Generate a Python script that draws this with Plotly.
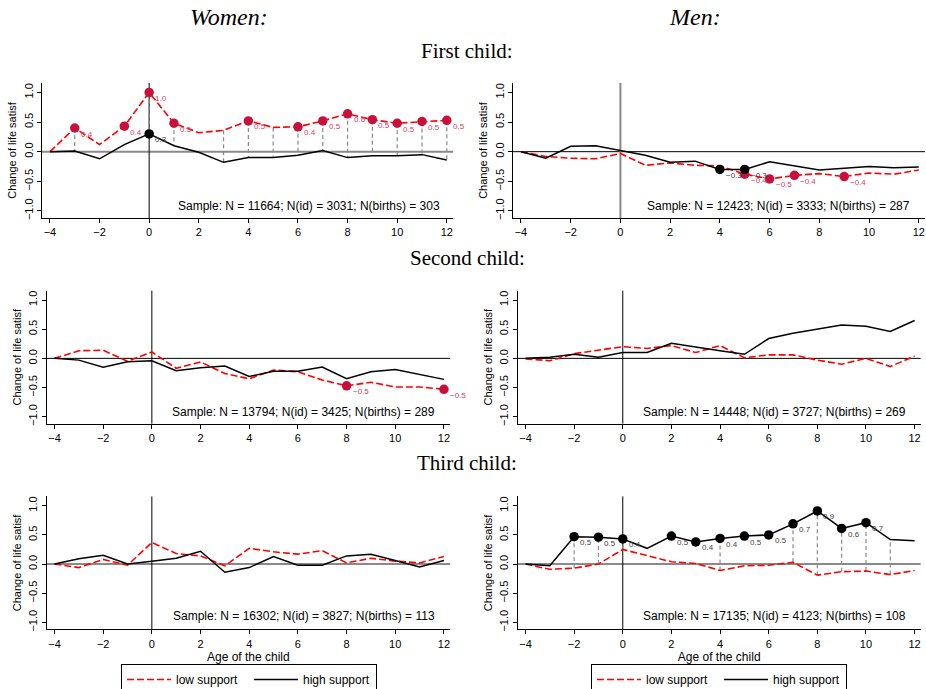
import plotly.graph_objects as go

W, H = 926, 689
ages = list(range(-4, 13))

col_titles = ["Women:", "Men:"]
row_titles = ["First child:", "Second child:", "Third child:"]
series_names = ["low support", "high support"]
y_tick_vals = [-1.0, -0.5, 0.0, 0.5, 1.0]
y_tick_text = ["\u22121.0", "\u22120.5", "0.0", "0.5", "1.0"]
x_tick_vals = [-4, -2, 0, 2, 4, 6, 8, 10, 12]
x_tick_text = ["\u22124", "\u22122", "0", "2", "4", "6", "8", "10", "12"]
y_title = "Change of life satisf"
x_title = "Age of the child"

# Women, first child
w1_low = [0.00, 0.40, 0.12, 0.43, 1.00, 0.48, 0.32, 0.36, 0.52, 0.41, 0.42, 0.52, 0.64, 0.54, 0.48, 0.51, 0.53]
w1_high = [0.00, 0.01, -0.12, 0.12, 0.30, 0.10, -0.01, -0.18, -0.10, -0.10, -0.06, 0.02, -0.10, -0.07, -0.07, -0.05, -0.14]
w1_low_sig = [-3, -1, 0, 1, 4, 6, 7, 8, 9, 10, 11, 12]
w1_high_sig = [0]
w1_diff = [-3, 0, 1, 3, 4, 5, 6, 7, 8, 9, 10, 11, 12]
# Men, first child
m1_low = [0.00, -0.08, -0.11, -0.12, -0.03, -0.23, -0.19, -0.23, -0.24, -0.38, -0.46, -0.40, -0.37, -0.42, -0.36, -0.38, -0.31]
m1_high = [0.00, -0.11, 0.09, 0.10, 0.02, -0.06, -0.18, -0.16, -0.30, -0.30, -0.17, -0.24, -0.31, -0.28, -0.25, -0.27, -0.26]
m1_low_sig = [5, 6, 7, 9]
m1_high_sig = [4, 5]
m1_diff = []
# Women, second child
w2_low = [0.00, 0.13, 0.14, -0.05, 0.11, -0.17, -0.06, -0.26, -0.35, -0.20, -0.23, -0.37, -0.47, -0.41, -0.49, -0.49, -0.53]
w2_high = [0.00, -0.03, -0.15, -0.06, -0.04, -0.21, -0.16, -0.13, -0.31, -0.22, -0.22, -0.15, -0.35, -0.23, -0.19, -0.27, -0.36]
w2_low_sig = [8, 12]
w2_high_sig = []
w2_diff = []
# Men, second child
m2_low = [-0.01, -0.04, 0.08, 0.14, 0.20, 0.17, 0.22, 0.10, 0.22, 0.01, 0.06, 0.06, -0.03, -0.10, 0.00, -0.14, 0.04]
m2_high = [0.00, 0.02, 0.07, 0.02, 0.10, 0.10, 0.26, 0.19, 0.13, 0.07, 0.34, 0.43, 0.50, 0.57, 0.55, 0.46, 0.65]
m2_low_sig = []
m2_high_sig = []
m2_diff = []
# Women, third child
w3_low = [0.00, -0.06, 0.08, -0.02, 0.37, 0.18, 0.14, -0.03, 0.27, 0.21, 0.17, 0.23, 0.02, 0.10, 0.05, 0.02, 0.13]
w3_high = [0.00, 0.09, 0.15, 0.00, 0.05, 0.10, 0.22, -0.14, -0.06, 0.13, -0.02, -0.02, 0.14, 0.17, 0.06, -0.05, 0.06]
w3_low_sig = []
w3_high_sig = []
w3_diff = []
# Men, third child
m3_low = [0.00, -0.09, -0.07, 0.00, 0.25, 0.14, 0.04, 0.01, -0.11, -0.03, -0.02, 0.03, -0.19, -0.13, -0.12, -0.18, -0.11]
m3_high = [0.00, -0.03, 0.47, 0.46, 0.43, 0.27, 0.48, 0.38, 0.44, 0.48, 0.50, 0.69, 0.91, 0.61, 0.71, 0.42, 0.40]
m3_low_sig = []
m3_high_sig = [-2, -1, 0, 2, 3, 4, 5, 6, 7, 8, 9, 10]
m3_diff = [-2, -1, 0, 4, 7, 8, 9, 10, 11]

samples = [
    "Sample: N = 11664; N(id) = 3031; N(births) = 303",
    "Sample: N = 12423; N(id) = 3333; N(births) = 287",
    "Sample: N = 13794; N(id) = 3425; N(births) = 289",
    "Sample: N = 14448; N(id) = 3727; N(births) = 269",
    "Sample: N = 16302; N(id) = 3827; N(births) = 113",
    "Sample: N = 17135; N(id) = 4123; N(births) = 108",
]

RED = "#ff0000"
MRED = "#c8103c"
LRED = "#d2406a"
GRAY = "#8a8a8a"
SANS = "Liberation Sans, Arial, sans-serif"
SERIF = "Liberation Serif, Times New Roman, serif"


def fx(px):
    return px / W


def fy(py):
    return 1 - py / H


panels = [
    dict(low=w1_low, high=w1_high, ls=w1_low_sig, hs=w1_high_sig, diff=w1_diff,
         px=(42, 453, 83, 218), zc=GRAY, zw=2, vc="#000000", vw=1, sx=442, sy=206),
    dict(low=m1_low, high=m1_high, ls=m1_low_sig, hs=m1_high_sig, diff=m1_diff,
         px=(513, 925, 83, 218), zc="#000000", zw=1, vc=GRAY, vw=2, sx=912, sy=206),
    dict(low=w2_low, high=w2_high, ls=w2_low_sig, hs=w2_high_sig, diff=w2_diff,
         px=(46.7, 450, 290.7, 423.7), zc="#000000", zw=1, vc="#000000", vw=1, sx=437, sy=412),
    dict(low=m2_low, high=m2_high, ls=m2_low_sig, hs=m2_high_sig, diff=m2_diff,
         px=(517.7, 920.7, 290.7, 423.7), zc="#000000", zw=1, vc="#000000", vw=1, sx=908, sy=412),
    dict(low=w3_low, high=w3_high, ls=w3_low_sig, hs=w3_high_sig, diff=w3_diff,
         px=(46.7, 450, 496.4, 629.4), zc=GRAY, zw=2, vc="#000000", vw=1, sx=437, sy=616),
    dict(low=m3_low, high=m3_high, ls=m3_low_sig, hs=m3_high_sig, diff=m3_diff,
         px=(517.7, 920.7, 496.4, 629.4), zc=GRAY, zw=2, vc="#000000", vw=1, sx=908, sy=616),
]

XR = [-4.32, 12.25]
YR = [-1.12, 1.16]

fig = go.Figure()
layout = dict(width=W, height=H, margin=dict(l=0, r=0, t=0, b=0, autoexpand=False),
              paper_bgcolor="white", plot_bgcolor="white",
              font=dict(family=SANS, size=11, color="black"))
shapes = []
annotations = []


def fmt(v):
    return f"{v:.1f}".replace("-", "\u2212")


for i, p in enumerate(panels):
    n = i + 1
    xa = "x" if n == 1 else f"x{n}"
    ya = "y" if n == 1 else f"y{n}"
    x0, x1, y0, y1 = p["px"]
    bottom = i >= 4
    layout["xaxis" if n == 1 else f"xaxis{n}"] = dict(
        domain=[fx(x0), fx(x1)], range=XR, anchor=ya,
        tickmode="array", tickvals=x_tick_vals, ticktext=x_tick_text,
        showline=True, linecolor="black", linewidth=1, ticks="outside",
        ticklen=4, tickcolor="black", showgrid=False, zeroline=False,
        tickfont=dict(size=11), ticklabeloverflow="allow",
        title=dict(text=x_title if bottom else "", font=dict(size=12), standoff=2),
    )
    layout["yaxis" if n == 1 else f"yaxis{n}"] = dict(
        domain=[fy(y1), fy(y0)], range=YR, anchor=xa,
        tickmode="array", tickvals=y_tick_vals, ticktext=y_tick_text,
        tickangle=-90, showline=True, linecolor="black", linewidth=1,
        ticks="outside", ticklen=4, tickcolor="black", showgrid=False,
        zeroline=False, tickfont=dict(size=11),
        title=dict(text=y_title, font=dict(size=11), standoff=3),
    )
    # reference lines
    shapes.append(dict(type="line", xref=f"{xa} domain", x0=0, x1=1, yref=ya, y0=0, y1=0,
                       line=dict(color=p["zc"], width=p["zw"]), layer="below"))
    shapes.append(dict(type="line", xref=xa, x0=0, x1=0, yref=f"{ya} domain", y0=0, y1=1,
                       line=dict(color=p["vc"], width=p["vw"]), layer="below"))

    # drop lines between series where the difference is significant
    dx, dy = [], []
    for a in p["diff"]:
        k = ages.index(a)
        dx += [a, a, None]
        dy += [p["low"][k], p["high"][k], None]
    if dx:
        fig.add_trace(go.Scatter(x=dx, y=dy, mode="lines", xaxis=xa, yaxis=ya,
                                 line=dict(color=GRAY, width=1.2, dash="4px,3px"),
                                 showlegend=False, hoverinfo="skip"))

    leg = None
    if n == 5:
        leg = "legend"
    elif n == 6:
        leg = "legend2"
    fig.add_trace(go.Scatter(x=ages, y=p["low"], mode="lines", xaxis=xa, yaxis=ya,
                             name=series_names[0],
                             line=dict(color=RED, width=1.6, dash="7px,3px"),
                             showlegend=leg is not None, legend=leg or "legend"))
    fig.add_trace(go.Scatter(x=ages, y=p["high"], mode="lines", xaxis=xa, yaxis=ya,
                             name=series_names[1],
                             line=dict(color="black", width=1.5),
                             showlegend=leg is not None, legend=leg or "legend"))

    # significant markers + value labels
    for key, ser, mc, tc in (("ls", "low", MRED, LRED), ("hs", "high", "black", "#444444")):
        sig = p[key]
        if not sig:
            continue
        vals = [p[ser][ages.index(a)] for a in sig]
        fig.add_trace(go.Scatter(x=sig, y=vals, mode="markers", xaxis=xa, yaxis=ya,
                                 marker=dict(color=mc, size=9.5, line=dict(width=0)),
                                 showlegend=False))
        for a, v in zip(sig, vals):
            annotations.append(dict(x=a, y=v, xref=xa, yref=ya, text=fmt(v),
                                    showarrow=False, xanchor="left", yanchor="middle",
                                    xshift=4, yshift=-6, font=dict(size=8, color=tc)))

    annotations.append(dict(x=fx(p["sx"]), y=fy(p["sy"]), xref="paper", yref="paper",
                            text=samples[i], showarrow=False, xanchor="right",
                            yanchor="middle", font=dict(size=12)))

# column titles (italic serif)
for t, cx in zip(col_titles, [229, 695]):
    annotations.append(dict(x=fx(cx), y=fy(17), xref="paper", yref="paper", text=f"<i>{t}</i>",
                            showarrow=False, font=dict(family=SERIF, size=24, color="black"),
                            xanchor="center", yanchor="middle"))
# row titles
for t, yy in zip(row_titles, [51, 258, 463]):
    annotations.append(dict(x=fx(467), y=fy(yy), xref="paper", yref="paper", text=t,
                            showarrow=False, font=dict(family=SERIF, size=21, color="black"),
                            xanchor="center", yanchor="middle"))

leg_common = dict(orientation="h", yanchor="top", xanchor="left",
                  bordercolor="black", borderwidth=1, bgcolor="white",
                  font=dict(size=12, family=SANS), itemwidth=44, entrywidth=68,
                  tracegroupgap=0)
layout["legend"] = dict(x=fx(121), y=fy(664), **leg_common)
layout["legend2"] = dict(x=fx(591), y=fy(664), **leg_common)
layout["shapes"] = shapes
layout["annotations"] = annotations
fig.update_layout(**layout)

# remove the browser's default 8px page margin so the figure fills the window exactly
fig.write_html("out.html", config={"displayModeBar": False},
               post_script="document.body.style.margin='0px';document.body.style.overflow='hidden';")
